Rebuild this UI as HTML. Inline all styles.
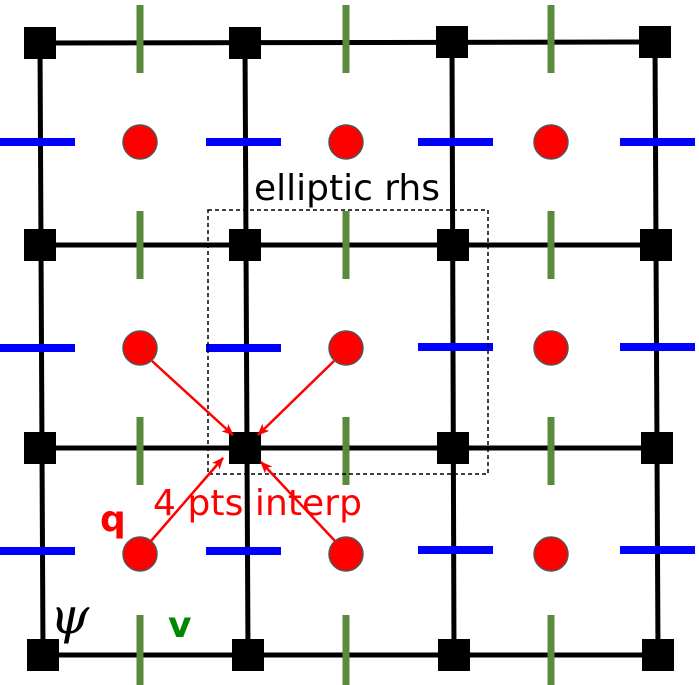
<!DOCTYPE html>
<html><head><style>body{margin:0;background:#fff}svg{display:block}</style></head><body>
<svg width="699" height="685" viewBox="0 0 699 685" xmlns="http://www.w3.org/2000/svg">
<defs><marker id="a" markerWidth="12" markerHeight="10" refX="11" refY="5" orient="auto" markerUnits="userSpaceOnUse"><path d="M0,0 L12,5 L0,10 L3,5z" fill="#f00"/></marker></defs>
<g stroke="#000" stroke-width="5">
<line x1="40" y1="43" x2="655" y2="42"/><line x1="40" y1="245" x2="655" y2="245"/><line x1="40" y1="448" x2="655" y2="448"/><line x1="43" y1="655" x2="658" y2="655"/>
<line x1="40" y1="43" x2="43" y2="655"/><line x1="245" y1="43" x2="248" y2="655"/><line x1="452" y1="43" x2="454" y2="655"/><line x1="655" y1="42" x2="658" y2="655"/>
</g>
<g stroke="#5a8a3c" stroke-width="7">
<line x1="140" y1="5" x2="140" y2="73"/><line x1="346" y1="5" x2="346" y2="73"/><line x1="551" y1="5" x2="551" y2="73"/>
<line x1="140" y1="211" x2="140" y2="279"/><line x1="346" y1="211" x2="346" y2="279"/><line x1="551" y1="211" x2="551" y2="279"/>
<line x1="140" y1="417" x2="140" y2="485"/><line x1="346" y1="417" x2="346" y2="485"/><line x1="551" y1="417" x2="551" y2="485"/>
<line x1="140" y1="615" x2="140" y2="685"/><line x1="346" y1="615" x2="346" y2="685"/><line x1="551" y1="615" x2="551" y2="685"/>
</g>
<g stroke="#00f" stroke-width="8">
<line x1="0" y1="142" x2="75" y2="142"/><line x1="206" y1="142" x2="281" y2="142"/><line x1="418" y1="142" x2="493" y2="142"/><line x1="620" y1="142" x2="695" y2="142"/>
<line x1="0" y1="348" x2="75" y2="348"/><line x1="206" y1="348" x2="281" y2="348"/><line x1="418" y1="347" x2="493" y2="347"/><line x1="620" y1="347" x2="695" y2="347"/>
<line x1="0" y1="551" x2="75" y2="551"/><line x1="206" y1="551" x2="281" y2="551"/><line x1="418" y1="550" x2="493" y2="550"/><line x1="620" y1="550" x2="695" y2="550"/>
</g>
<g fill="#000">
<rect x="24" y="27" width="32" height="32"/><rect x="229" y="27" width="32" height="32"/><rect x="436" y="26" width="32" height="32"/><rect x="639" y="26" width="32" height="32"/>
<rect x="24" y="229" width="32" height="32"/><rect x="229" y="229" width="32" height="32"/><rect x="437" y="229" width="32" height="32"/><rect x="640" y="229" width="32" height="32"/>
<rect x="24" y="432" width="32" height="32"/><rect x="229" y="432" width="32" height="32"/><rect x="437" y="432" width="32" height="32"/><rect x="641" y="432" width="32" height="32"/>
<rect x="27" y="639" width="32" height="32"/><rect x="232" y="639" width="32" height="32"/><rect x="438" y="639" width="32" height="32"/><rect x="642" y="639" width="32" height="32"/>
</g>
<g fill="#f00" stroke="#555" stroke-width="1.5">
<circle cx="140" cy="142" r="17"/><circle cx="346" cy="142" r="17"/><circle cx="551" cy="142" r="17"/>
<circle cx="140" cy="348" r="17"/><circle cx="346" cy="348" r="17"/><circle cx="551" cy="348" r="17"/>
<circle cx="140" cy="554" r="17"/><circle cx="346" cy="554" r="17"/><circle cx="551" cy="554" r="17"/>
</g>
<rect x="208" y="210" width="280" height="264" fill="none" stroke="#000" stroke-width="1.5" stroke-dasharray="4,3"/>
<g stroke="#f00" stroke-width="2.5" marker-end="url(#a)">
<line x1="152" y1="361" x2="233" y2="435"/><line x1="334" y1="361" x2="258" y2="435"/>
<line x1="151" y1="541" x2="223" y2="458"/><line x1="335" y1="541" x2="261" y2="462"/>
</g>
<g font-family="DejaVu Sans, sans-serif" font-size="36">
<text x="254" y="200" fill="#000" textLength="186">elliptic rhs</text>
<text x="153" y="515" fill="#f00" textLength="209">4 pts interp</text>
<text x="100" y="531" fill="#f00" font-weight="bold">q</text>
<text x="168" y="637" fill="#080" font-weight="bold">v</text>
</g>
<text x="50" y="633" font-family="DejaVu Serif, serif" font-style="italic" font-size="50" fill="#000">ψ</text>
</svg>
</body></html>
